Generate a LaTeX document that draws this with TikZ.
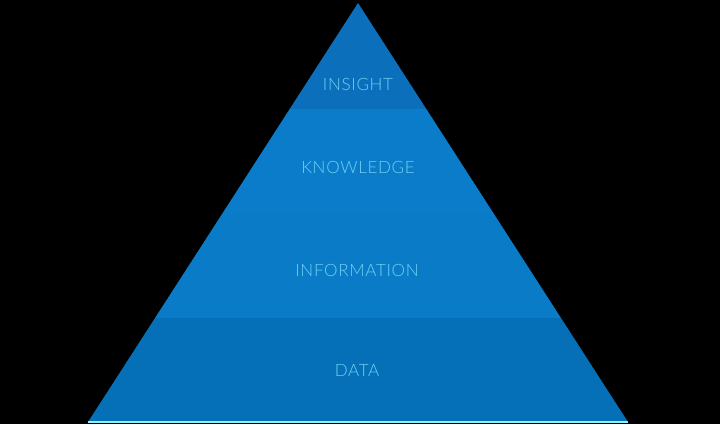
\documentclass[tikz,border=0pt]{standalone}
\usepackage{fontspec}
\setmainfont{Lato}[UprightFont={* Light}]
\begin{document}
\begin{tikzpicture}[x=1pt,y=-1pt,
  band/.style={draw=none},
  tierlabel/.style={text=labelcyan,font=\fontsize{17}{17}\selectfont\addfontfeatures{LetterSpace=4}, inner sep=0pt}]
\definecolor{insightblue}{HTML}{0B6FBC}
\definecolor{knowblue}{HTML}{0A7CC9}
\definecolor{infoblue}{HTML}{0A7BC6}
\definecolor{datablue}{HTML}{0570B7}
\definecolor{labelcyan}{HTML}{6FD0F2}
\definecolor{edgecyan}{HTML}{8CF4FF}
% canvas
\fill[black] (0,0) rectangle (720,424);
\useasboundingbox (0,0) rectangle (720,424);
% pyramid corners
\coordinate (apex) at (358,3);
\coordinate (bl) at (88,422);
\coordinate (br) at (628,422);
\begin{scope}
  \clip (apex) -- (bl) -- (br) -- cycle;
  \fill[insightblue] (0,0) rectangle (720,109);
  \fill[knowblue] (0,109) rectangle (720,213);
  \fill[infoblue] (0,213) rectangle (720,318);
  \fill[datablue] (0,318) rectangle (720,424);
\end{scope}
\draw[edgecyan,line width=1.2pt] (bl) -- (br);
% tier labels
\node[tierlabel] (insight) at (358,84) {INSIGHT};
\node[tierlabel] (knowledge) at (358,167) {KNOWLEDGE};
\node[tierlabel] (information) at (357,270) {INFORMATION};
\node[tierlabel] (data) at (357,370) {DATA};
\end{tikzpicture}
\end{document}
